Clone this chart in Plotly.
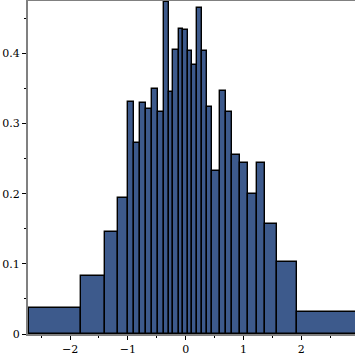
import plotly.graph_objects as go

bin_edges = [-2.709, -1.815, -1.40, -1.175, -1.002, -0.898, -0.789, -0.685, -0.581,
             -0.478, -0.379, -0.292, -0.213, -0.123, -0.045, 0.036, 0.116, 0.197,
             0.279, 0.365, 0.462, 0.595, 0.704, 0.808, 0.941, 1.071, 1.235, 1.374,
             1.587, 1.927, 2.97]
densities = [0.0367, 0.083, 0.146, 0.194, 0.331, 0.272, 0.329, 0.320, 0.349, 0.316,
             0.473, 0.345, 0.405, 0.435, 0.433, 0.403, 0.384, 0.464, 0.403, 0.323,
             0.232, 0.346, 0.316, 0.255, 0.244, 0.200, 0.244, 0.157, 0.102, 0.032]
x_ticks = [-2, -1, 0, 1, 2]
y_ticks = [0, 0.1, 0.2, 0.3, 0.4]

centers = [(a + b) / 2 for a, b in zip(bin_edges[:-1], bin_edges[1:])]
widths = [b - a for a, b in zip(bin_edges[:-1], bin_edges[1:])]

fig = go.Figure(go.Bar(
    x=centers, y=densities, width=widths,
    marker=dict(color="#3d5a8c", line=dict(color="black", width=1.4)),
    cliponaxis=True,
))

font = dict(family="DejaVu Serif", size=11, color="black")
fig.update_layout(
    width=355, height=355,
    margin=dict(l=28, r=0, t=1, b=21, autoexpand=False),
    plot_bgcolor="white", paper_bgcolor="white",
    showlegend=False, bargap=0,
    font=font,
)
fig.update_xaxes(
    range=[-2.727, 2.93], tickvals=x_ticks, ticks="outside", ticklen=4,
    tickcolor="black", showline=True, linecolor="#808080", linewidth=2,
    mirror=True, showgrid=False, zeroline=False, tickfont=font, automargin=False,
    minor=dict(dtick=0.5, tick0=0, ticks="outside", ticklen=2, tickcolor="black"),
)
fig.update_yaxes(
    range=[0, 0.4746], tickvals=y_ticks, ticks="outside", ticklen=4,
    tickcolor="black", showline=True, linecolor="#808080", linewidth=2,
    showgrid=False, zeroline=False, tickfont=font, automargin=False,
    minor=dict(dtick=0.05, tick0=0, ticks="outside", ticklen=2, tickcolor="black"),
)

fig.write_html(
    "out.html",
    config={"displayModeBar": False},
    post_script="document.body.style.margin='0';document.body.style.overflow='hidden';",
)
